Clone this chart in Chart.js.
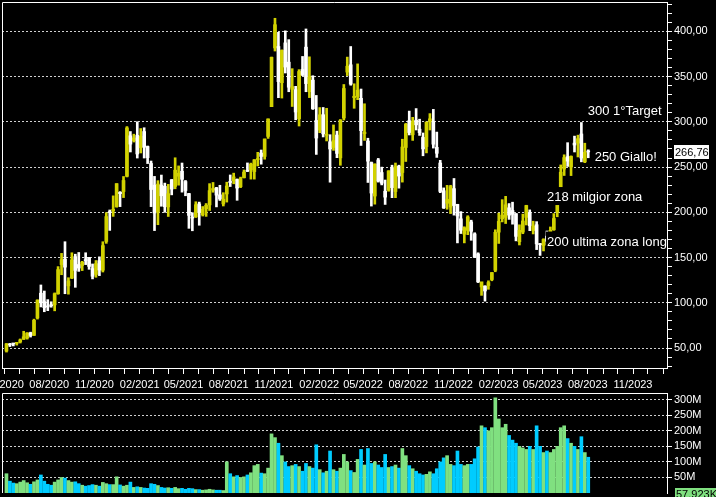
<!DOCTYPE html>
<html>
<head>
<meta charset="utf-8">
<script src="https://cdn.jsdelivr.net/npm/chart.js@4.4.0/dist/chart.umd.min.js"></script>
<style>
  html, body { margin: 0; padding: 0; background: #000; }
  canvas { display: block; }
</style>
</head>
<body>
<canvas id="priceChart" width="716" height="391"></canvas>
<canvas id="volumeChart" width="716" height="106"></canvas>
<script>
// weekly candles (week start, Monday)
const weekStart = [
  '2020-05-04','2020-05-11','2020-05-18','2020-05-25','2020-06-01','2020-06-08','2020-06-15','2020-06-22','2020-06-29','2020-07-06',
  '2020-07-13','2020-07-20','2020-07-27','2020-08-03','2020-08-10','2020-08-17','2020-08-24','2020-08-31','2020-09-07','2020-09-14',
  '2020-09-21','2020-09-28','2020-10-05','2020-10-12','2020-10-19','2020-10-26','2020-11-02','2020-11-09','2020-11-16','2020-11-23',
  '2020-11-30','2020-12-07','2020-12-14','2020-12-21','2020-12-28',
  '2021-01-04','2021-01-11','2021-01-18','2021-01-25','2021-02-01','2021-02-08','2021-02-15','2021-02-22','2021-03-01','2021-03-08',
  '2021-03-15','2021-03-22','2021-03-29','2021-04-05','2021-04-12','2021-04-19','2021-04-26','2021-05-03','2021-05-10','2021-05-17',
  '2021-05-24','2021-05-31','2021-06-07','2021-06-14','2021-06-21','2021-06-28','2021-07-05','2021-07-12','2021-07-19','2021-07-26',
  '2021-08-02','2021-08-09','2021-08-16','2021-08-23','2021-08-30','2021-09-06','2021-09-13','2021-09-20','2021-09-27','2021-10-04',
  '2021-10-11','2021-10-18','2021-10-25','2021-11-01','2021-11-08','2021-11-15','2021-11-22','2021-11-29','2021-12-06','2021-12-13',
  '2021-12-20','2021-12-27',
  '2022-01-03','2022-01-10','2022-01-17','2022-01-24','2022-01-31','2022-02-07','2022-02-14','2022-02-21','2022-02-28','2022-03-07',
  '2022-03-14','2022-03-21','2022-03-28','2022-04-04','2022-04-11','2022-04-18','2022-04-25','2022-05-02','2022-05-09','2022-05-16',
  '2022-05-23','2022-05-30','2022-06-06','2022-06-13','2022-06-20','2022-06-27','2022-07-04','2022-07-11','2022-07-18','2022-07-25',
  '2022-08-01','2022-08-08','2022-08-15','2022-08-22','2022-08-29','2022-09-05','2022-09-12','2022-09-19','2022-09-26','2022-10-03',
  '2022-10-10','2022-10-17','2022-10-24','2022-10-31','2022-11-07','2022-11-14','2022-11-21','2022-11-28','2022-12-05','2022-12-12',
  '2022-12-19','2022-12-26',
  '2023-01-02','2023-01-09','2023-01-16','2023-01-23','2023-01-30','2023-02-06','2023-02-13','2023-02-20','2023-02-27','2023-03-06',
  '2023-03-13','2023-03-20','2023-03-27','2023-04-03','2023-04-10','2023-04-17','2023-04-24','2023-05-01','2023-05-08','2023-05-15',
  '2023-05-22','2023-05-29','2023-06-05','2023-06-12','2023-06-19','2023-06-26','2023-07-03','2023-07-10','2023-07-17','2023-07-24',
  '2023-07-31'
]

const open = [
  46.7, 54.5, 55.0, 55.2, 56.7, 59.7, 61.0, 66.7, 64.0, 83.3, 110.6, 101.3, 95.7, 96.9, 97.7, 110.0, 142.2, 148.2, 118.7, 127.3,
  151.0, 142.3, 141.2, 147.4, 150.1, 137.7, 131.3, 146.5, 136.0, 167.8, 200.7, 201.7, 206.3, 222.1, 223.0,
  239.8, 284.6, 279.3, 285.0, 271.4, 289.3, 272.7, 254.0, 230.0, 200.2, 230.0, 228.7, 205.9, 236.0, 228.6, 239.9, 245.4, 234.0, 220.7, 193.9,
  195.0, 209.3, 197.3, 203.9, 208.2, 224.5, 227.0, 219.3, 209.3, 220.3, 233.3, 235.0, 236.3, 228.3, 238.2, 246.3, 246.8, 245.0, 258.3, 265.5,
  261.8, 283.9, 316.8, 381.7, 383.3, 343.3, 387.3, 366.0, 336.0, 335.6, 303.4, 357.9,
  382.6, 333.3, 346.1, 301.6, 290.9, 307.9, 285.2, 278.0, 271.7, 285.4, 260.2, 304.3, 355.0, 363.1, 326.8, 328.0, 326.0, 286.9, 278.8, 255.0,
  218.0, 257.9, 244.0, 223.3, 224.6, 249.4, 223.0, 251.0, 244.0, 271.7, 301.3, 285.7, 301.8, 291.9, 282.8, 272.7, 300.1, 300.1, 271.8, 254.5,
  223.9, 210.0, 205.8, 226.2, 208.7, 192.8, 175.9, 179.96, 189.4, 176.1, 154.0, 117.5,
  118.5, 118.96, 125.7, 135.9, 178.05, 193.0, 194.4, 204.99, 202.0, 198.5, 167.5, 178.1, 194.4, 199.9, 179.9, 186.3, 164.65, 163.2, 173.7, 167.7,
  180.7, 200.1, 217.8, 247.9, 261.5, 250.1, 276.5, 276.5, 286.6, 255.85, 267.5
]

const high = [
  55.0, 55.1, 55.1, 56.3, 60.0, 68.5, 67.0, 67.5, 81.9, 103.3, 119.7, 113.0, 103.5, 101.1, 110.9, 140.0, 154.6, 167.5, 127.7, 155.3,
  153.7, 155.6, 145.8, 155.3, 150.1, 142.9, 146.7, 150.8, 167.5, 199.6, 202.6, 218.2, 231.7, 222.9, 239.6,
  294.8, 289.3, 286.4, 300.1, 292.6, 293.5, 273.3, 256.7, 239.7, 235.0, 241.2, 232.3, 230.9, 236.3, 260.3, 251.3, 254.5, 235.2, 221.0, 199.6,
  211.7, 211.3, 206.4, 209.7, 231.7, 233.0, 227.6, 229.9, 221.7, 233.3, 241.3, 243.3, 236.9, 238.9, 246.8, 254.6, 254.4, 258.3, 266.3, 268.9,
  281.1, 303.3, 371.7, 414.5, 399.0, 379.6, 400.6, 390.9, 358.8, 339.3, 357.7, 372.3,
  402.7, 371.9, 351.0, 329.2, 315.8, 315.9, 315.0, 285.8, 296.6, 289.7, 302.6, 341.3, 371.6, 383.3, 342.1, 364.1, 336.3, 320.0, 281.9, 255.6,
  253.7, 259.6, 249.97, 235.7, 246.1, 252.1, 254.5, 252.1, 280.8, 298.3, 311.9, 305.0, 314.7, 302.96, 287.7, 299.85, 309.1, 313.8, 288.7, 257.5,
  226.99, 229.8, 229.9, 237.4, 208.9, 200.8, 184.0, 196.25, 191.3, 177.4, 155.25, 119.7,
  118.8, 124.3, 133.5, 180.7, 199.0, 214.0, 217.65, 209.7, 211.2, 198.6, 186.2, 198.0, 207.8, 202.7, 190.2, 189.7, 165.65, 170.8, 179.35, 183.8,
  198.6, 217.25, 252.4, 263.6, 276.99, 262.4, 284.25, 285.3, 299.3, 276.4, 269.1
]

const low = [
  45.5, 51.6, 52.3, 53.2, 55.5, 59.4, 59.8, 62.1, 63.8, 82.0, 95.4, 90.1, 91.3, 95.1, 91.1, 109.4, 131.0, 110.0, 109.5, 126.7,
  117.1, 134.7, 135.6, 142.2, 137.0, 126.4, 128.2, 130.0, 134.0, 165.7, 180.0, 195.5, 205.6, 206.3, 216.3,
  239.1, 266.7, 277.7, 260.0, 265.6, 260.0, 253.9, 206.3, 179.8, 186.3, 206.7, 200.0, 195.4, 219.3, 226.0, 230.0, 222.3, 218.3, 182.3, 179.6,
  194.3, 185.7, 195.9, 195.5, 202.0, 222.2, 206.0, 213.1, 207.0, 211.3, 228.5, 231.5, 213.3, 227.3, 238.0, 245.0, 236.7, 236.7, 251.3, 253.2,
  258.7, 281.7, 316.8, 378.3, 326.7, 326.3, 354.0, 333.3, 317.0, 302.3, 295.4, 351.0,
  333.3, 326.8, 313.7, 264.0, 288.0, 283.3, 278.9, 233.3, 268.5, 260.4, 252.0, 302.0, 351.2, 340.5, 315.0, 324.5, 273.9, 279.5, 233.0, 206.9,
  209.0, 233.4, 230.3, 208.7, 223.3, 216.2, 216.2, 226.7, 233.4, 256.2, 285.5, 279.5, 291.0, 285.0, 262.5, 265.7, 291.0, 271.0, 260.7, 221.7,
  204.2, 203.4, 198.6, 196.9, 166.2, 176.55, 166.2, 175.3, 169.1, 150.0, 122.3, 108.2,
  101.8, 114.9, 124.3, 134.3, 165.6, 189.4, 187.6, 192.2, 186.9, 168.44, 163.9, 176.35, 186.0, 179.7, 176.1, 158.8, 152.37, 157.3, 164.3, 163.3,
  180.1, 195.1, 210.8, 240.7, 250.7, 240.6, 266.7, 261.2, 255.8, 254.9, 260.3
]

const close = [
  54.6, 53.3, 54.5, 55.7, 59.0, 62.4, 66.6, 63.9, 80.6, 102.9, 100.0, 94.5, 95.4, 96.8, 110.0, 136.7, 147.6, 139.4, 124.2, 147.3,
  135.8, 138.4, 144.7, 146.6, 140.2, 129.3, 143.3, 136.2, 163.2, 195.3, 199.7, 203.3, 231.7, 220.6, 235.2,
  293.3, 275.4, 282.2, 264.5, 284.1, 272.0, 260.4, 225.2, 199.3, 231.2, 218.3, 206.2, 220.6, 225.7, 246.6, 243.1, 236.5, 224.1, 196.6, 193.6,
  208.4, 199.7, 203.3, 207.8, 224.0, 226.3, 219.0, 214.7, 214.5, 229.1, 233.0, 239.1, 226.8, 237.3, 244.5, 245.4, 253.2, 258.1, 258.4, 261.8,
  281.0, 303.2, 371.3, 407.4, 344.5, 379.0, 360.6, 338.3, 339.0, 310.9, 355.7, 352.3,
  342.3, 349.9, 314.6, 282.1, 307.8, 286.7, 285.7, 270.0, 279.4, 265.1, 301.8, 336.9, 361.5, 341.8, 328.3, 335.0, 290.3, 288.6, 256.5, 221.3,
  253.2, 234.5, 232.2, 216.8, 245.7, 227.3, 250.8, 240.1, 272.2, 297.2, 288.2, 300.0, 296.7, 288.1, 270.1, 299.7, 303.35, 275.3, 265.25, 223.1,
  204.99, 214.4, 228.5, 207.5, 195.97, 180.2, 182.9, 194.86, 179.05, 150.2, 123.15, 123.2,
  113.06, 122.4, 133.4, 177.9, 189.98, 196.9, 208.3, 196.9, 197.8, 173.4, 180.1, 190.4, 207.5, 185.1, 185.0, 165.1, 164.3, 170.06, 167.98, 180.1,
  193.2, 213.97, 244.4, 260.5, 256.6, 261.8, 274.4, 281.4, 260.0, 266.4, 266.76
]

// volume in millions
const volume = [
  62, 38, 32, 30, 35, 40, 33, 28, 36, 42, 58, 38, 28, 25, 35, 42, 50, 48, 40, 35,
  36, 30, 25, 22, 24, 27, 25, 22, 34, 30, 27, 27, 52, 26, 22,
  25, 35, 18, 20, 18, 16, 15, 30, 28, 24, 18, 16, 17, 15, 18, 14, 15, 12, 15, 14,
  11, 11, 9, 10, 12, 10, 9, 9, 8, 100, 62, 52, 56, 50, 52, 58, 65, 88, 92, 64,
  62, 80, 190, 178, 160, 120, 100, 85, 88, 92, 85, 70,
  95, 85, 80, 155, 75, 65, 70, 135, 75, 70, 80, 124, 100, 72, 66, 108, 140, 90, 143, 95,
  100, 90, 82, 124, 82, 85, 90, 80, 143, 120, 88, 78, 70, 62, 58, 60, 68, 62, 78, 100,
  113, 120, 92, 88, 135, 92, 88, 92, 92, 110, 148, 216,
  210, 200, 210, 306, 238, 210, 221, 185, 170, 160, 150, 145, 140, 150, 140, 216, 150, 130, 135, 130,
  140, 150, 210, 216, 175, 160, 150, 140, 181, 130, 115
]

const quarterLabels = ['05/2020', '08/2020', '11/2020', '02/2021', '05/2021', '08/2021', '11/2021', '02/2022',
  '05/2022', '08/2022', '11/2022', '02/2023', '05/2023', '08/2023', '11/2023']

const noteText = ['300 1°Target', '250 Giallo!', '218 milgior zona', '200 ultima zona long']
const noteDate = ['2023-08-01', '2023-08-15', '2023-05-10', '2023-05-10']
const notePrice = [312.8, 262.8, 218, 168.8]

const lastPrice = 266.76
const lastVolumeLabel = '57,923K'

const DAY = 86400000
const ORIGIN = Date.parse('2020-05-01')
function dayOf(s) {
  return (Date.parse(s) - ORIGIN) / DAY
}

const X_MIN = -4.07
const X_MAX = 1348.1

const UP = '#d2d200'
const DOWN = '#ffffff'
const VOL_UP = '#80e080'
const VOL_DOWN = '#00ccff'
const GRID = '#d0d0d0'

Chart.defaults.font.family = "'Liberation Sans', Arial, sans-serif"
Chart.defaults.font.size = 11
Chart.defaults.color = '#ffffff'

const xs = weekStart.map(s => dayOf(s) + 2)
const isUp = close.map((c, i) => c >= open[i])
const candleColor = isUp.map(u => (u ? UP : DOWN))
const volColor = isUp.map(u => (u ? VOL_UP : VOL_DOWN))

// month ticks on the time axis
const monthDays = []
for (let m = 0; m <= 44; m++) {
  monthDays.push((Date.UTC(2020, 4 + m, 1) - ORIGIN) / DAY)
}

const priceTicks = []
for (let v = 30; v <= 430; v += 10) priceTicks.push(v)

const volTicks = [50, 100, 150, 200, 250, 300]

function fmtPrice(v) {
  return v.toFixed(2).replace('.', ',')
}

// white frame on top and left of a plot area
const framePlugin = {
  id: 'frame',
  afterDraw(chart) {
    const { ctx, chartArea: a } = chart
    ctx.save()
    ctx.strokeStyle = '#ffffff'
    ctx.lineWidth = 1
    ctx.beginPath()
    ctx.moveTo(a.left + 0.5, a.bottom)
    ctx.lineTo(a.left + 0.5, a.top + 0.5)
    ctx.lineTo(a.right, a.top + 0.5)
    ctx.stroke()
    ctx.restore()
  }
}

// text notes with black background, drawn over the candles
const notesPlugin = {
  id: 'notes',
  afterDatasetsDraw(chart) {
    const { ctx, chartArea: a, scales } = chart
    ctx.save()
    ctx.beginPath()
    ctx.rect(a.left + 1, a.top + 1, a.right - a.left - 1, a.bottom - a.top - 1)
    ctx.clip()
    ctx.font = "13px 'Liberation Sans', Arial, sans-serif"
    ctx.textBaseline = 'alphabetic'
    ctx.textAlign = 'left'
    for (let i = 0; i < noteText.length; i++) {
      const x = scales.x.getPixelForValue(dayOf(noteDate[i]))
      const y = scales.y.getPixelForValue(notePrice[i])
      const w = ctx.measureText(noteText[i]).width
      ctx.fillStyle = '#000000'
      ctx.fillRect(x - 1, y - 9, w + 2, 18)
      ctx.fillStyle = '#ffffff'
      ctx.fillText(noteText[i], x, y + 5)
    }
    ctx.restore()
  },
  afterDraw(chart) {
    const { ctx, chartArea: a, scales } = chart
    const y = Math.round(scales.y.getPixelForValue(lastPrice))
    ctx.save()
    ctx.fillStyle = '#ffffff'
    ctx.fillRect(a.right + 7, y - 7, 35, 14)
    ctx.fillStyle = '#000000'
    ctx.font = "11px 'Liberation Sans', Arial, sans-serif"
    ctx.textBaseline = 'middle'
    ctx.textAlign = 'left'
    ctx.fillText(fmtPrice(lastPrice), a.right + 8, y + 1)
    ctx.restore()
  }
}

const volLabelPlugin = {
  id: 'volLabel',
  afterDraw(chart) {
    const { ctx, chartArea: a } = chart
    ctx.save()
    ctx.fillStyle = VOL_UP
    ctx.fillRect(a.right + 8, a.bottom - 5, 716 - a.right - 8, 14)
    ctx.fillStyle = '#000000'
    ctx.font = "11px 'Liberation Sans', Arial, sans-serif"
    ctx.textBaseline = 'middle'
    ctx.textAlign = 'left'
    ctx.fillText(lastVolumeLabel, a.right + 9, a.bottom + 2)
    ctx.restore()
  }
}

new Chart(document.getElementById('priceChart'), {
  type: 'bar',
  data: {
    datasets: [
      {
        label: 'body',
        data: xs.map((x, i) => ({ x: x, y: [open[i], close[i]] })),
        backgroundColor: candleColor,
        barThickness: 3,
        minBarLength: 1,
        grouped: false
      },
      {
        label: 'range',
        data: xs.map((x, i) => ({ x: x, y: [low[i], high[i]] })),
        backgroundColor: candleColor,
        barThickness: 2,
        grouped: false
      }
    ]
  },
  options: {
    responsive: false,
    animation: false,
    events: [],
    layout: { padding: { left: 2, top: 2, right: 0, bottom: 0 } },
    plugins: { legend: { display: false }, tooltip: { enabled: false } },
    scales: {
      x: {
        type: 'linear',
        offset: false,
        min: X_MIN,
        max: X_MAX,
        afterBuildTicks: s => {
          s.ticks = monthDays.map(v => ({ value: v }))
        },
        afterFit: s => {
          s.height = 23
          s.paddingLeft = 0
          s.paddingRight = 0
        },
        ticks: {
          autoSkip: false,
          maxRotation: 0,
          minRotation: 0,
          padding: 4,
          callback: (v, i) => (i % 3 === 0 ? quarterLabels[i / 3] || '' : '')
        },
        grid: { offset: false, drawOnChartArea: false, tickLength: 6, tickColor: '#ffffff', color: '#ffffff' },
        border: { color: '#ffffff' }
      },
      y: {
        type: 'linear',
        position: 'right',
        min: 27.9,
        max: 432.5,
        afterBuildTicks: s => {
          s.ticks = priceTicks.map(v => ({ value: v }))
        },
        afterFit: s => {
          s.width = 49
          s.paddingTop = 0
          s.paddingBottom = 0
        },
        ticks: {
          autoSkip: false,
          padding: 2,
          callback: v => (v % 50 === 0 ? fmtPrice(v) : '')
        },
        grid: {
          color: c => (c.tick && c.tick.value % 50 === 0 ? GRID : 'rgba(0,0,0,0)'),
          tickColor: '#ffffff',
          tickLength: 5
        },
        border: { color: '#ffffff', dash: [2, 2] }
      }
    }
  },
  plugins: [framePlugin, notesPlugin]
})

new Chart(document.getElementById('volumeChart'), {
  type: 'bar',
  data: {
    datasets: [
      {
        label: 'volume',
        data: xs.map((x, i) => ({ x: x, y: volume[i] })),
        backgroundColor: volColor,
        barThickness: 3,
        grouped: false
      }
    ]
  },
  options: {
    responsive: false,
    animation: false,
    events: [],
    layout: { padding: { left: 2, top: 2, right: 0, bottom: 4 } },
    plugins: { legend: { display: false }, tooltip: { enabled: false } },
    scales: {
      x: { type: 'linear', offset: false, grid: { offset: false }, min: X_MIN, max: X_MAX, display: false },
      y: {
        type: 'linear',
        position: 'right',
        min: 0,
        max: 321.5,
        afterBuildTicks: s => {
          s.ticks = volTicks.map(v => ({ value: v }))
        },
        afterFit: s => {
          s.width = 49
          s.paddingTop = 0
          s.paddingBottom = 0
        },
        ticks: { autoSkip: false, padding: 2, callback: v => v + 'M' },
        grid: { color: GRID, tickColor: '#ffffff', tickLength: 5 },
        border: { color: '#ffffff', dash: [2, 2] }
      }
    }
  },
  plugins: [framePlugin, volLabelPlugin]
})
</script>
</body>
</html>
